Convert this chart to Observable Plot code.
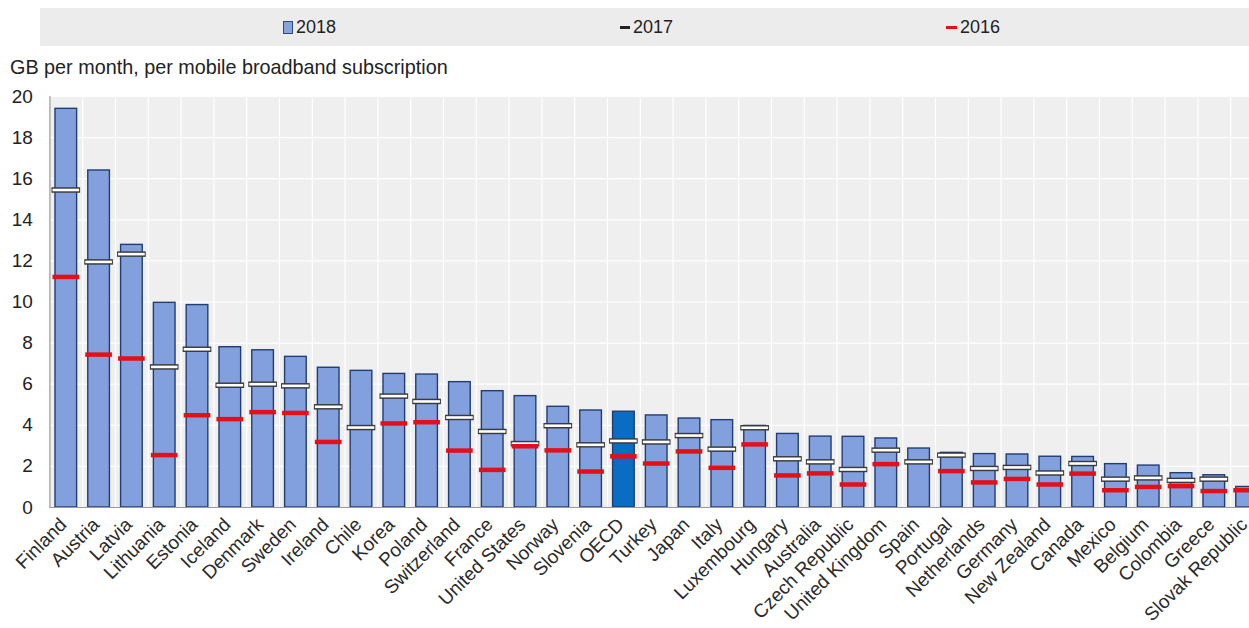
<!DOCTYPE html>
<html>
<head>
<meta charset="utf-8">
<script src="https://cdn.jsdelivr.net/npm/d3@7"></script>
<script src="https://cdn.jsdelivr.net/npm/@observablehq/plot@0.6"></script>
<style>
  html, body { margin: 0; padding: 0; background: #fff; overflow: hidden; width: 1249px; height: 628px; }
  body { position: relative; font-family: "Liberation Sans", Arial, sans-serif; }
  #chart { position: absolute; left: 0; top: 0; width: 1263px; }
  #chart svg { max-width: none !important; }
  #legend { position: absolute; left: 40px; top: 8px; width: 1209px; height: 38px; background: #ececec; z-index: 2; }
  .item { position: absolute; top: 0; height: 38px; display: flex; align-items: center; font-size: 18px; color: #222; }
  .sw { display: inline-block; margin-right: 3px; }
  #subtitle { position: absolute; left: 10px; top: 56px; font-size: 19.8px; color: #222; z-index: 2; white-space: nowrap; }
</style>
</head>
<body>
<div id="chart"></div>
<div id="legend">
  <div class="item" style="left:243px"><span class="sw" style="width:8px;height:11px;background:#86a3dc;border:1px solid #2c4a86"></span>2018</div>
  <div class="item" style="left:580px"><span class="sw" style="width:10px;height:3px;background:#222"></span>2017</div>
  <div class="item" style="left:906px"><span class="sw" style="width:11px;height:3px;background:#e3101a"></span>2016</div>
</div>
<div id="subtitle">GB per month, per mobile broadband subscription</div>
<script>
const countries = ["Finland","Austria","Latvia","Lithuania","Estonia","Iceland","Denmark","Sweden","Ireland","Chile","Korea","Poland","Switzerland","France","United States","Norway","Slovenia","OECD","Turkey","Japan","Italy","Luxembourg","Hungary","Australia","Czech Republic","United Kingdom","Spain","Portugal","Netherlands","Germany","New Zealand","Canada","Mexico","Belgium","Colombia","Greece","Slovak Republic"];
const v2018 = [19.4,16.4,12.78,9.96,9.85,7.8,7.65,7.33,6.8,6.65,6.5,6.47,6.1,5.66,5.42,4.9,4.72,4.66,4.48,4.33,4.25,3.97,3.58,3.45,3.44,3.36,2.87,2.66,2.6,2.58,2.47,2.46,2.11,2.04,1.67,1.57,1.0];
const v2017 = [15.45,11.95,12.33,6.84,7.7,5.95,6.0,5.92,4.9,3.89,5.42,5.16,4.38,3.7,3.11,3.98,3.05,3.24,3.19,3.5,2.84,3.88,2.37,2.22,1.85,2.79,2.22,2.55,1.9,1.95,1.68,2.14,1.38,1.44,1.32,1.38,null];
const v2016 = [11.22,7.44,7.25,2.55,4.49,4.3,4.64,4.6,3.19,null,4.09,4.15,2.77,1.83,2.98,2.78,1.75,2.49,2.14,2.73,1.93,3.07,1.56,1.66,1.12,2.11,null,1.77,1.22,1.39,1.12,1.65,0.84,1.0,1.04,0.8,0.84];
const yTicks = [0,2,4,6,8,10,12,14,16,18,20];

const data = countries.map((c, i) => ({country: c, y18: v2018[i], y17: v2017[i], y16: v2016[i]}));

const W = 1263, ML = 49.4, MR = 0;
const step = (W - ML - MR) / countries.length;

const chart = Plot.plot({
  width: W,
  height: 628,
  marginTop: 96,
  marginBottom: 121,
  marginLeft: ML,
  marginRight: MR,
  style: {fontFamily: "Liberation Sans, Arial, sans-serif", background: "transparent", color: "#222", maxWidth: "none"},
  x: {domain: countries, paddingInner: 0.34, paddingOuter: 0.17, round: false, label: null},
  y: {domain: [0, 20], ticks: yTicks, label: null},
  marks: [
    Plot.frame({fill: "#efefef", stroke: null}),
    Plot.gridY(yTicks, {stroke: "#ffffff", strokeOpacity: 1, strokeWidth: 1.2}),
    Plot.ruleX(countries, {x: d => d, stroke: "#ffffff", strokeWidth: 1.2, dx: step / 2}),
    Plot.barY(data, {x: "country", y: "y18", fill: d => d.country === "OECD" ? "#0b6cc4" : "#82a0de", stroke: "#223d73", strokeWidth: 1.4}),
    Plot.tickY(data.filter(d => d.y17 != null), {x: "country", y: "y17", stroke: "#3a3a3a", strokeWidth: 5.5, insetLeft: -3.5, insetRight: -3.5}),
    Plot.tickY(data.filter(d => d.y17 != null), {x: "country", y: "y17", stroke: "#ffffff", strokeWidth: 2.6, insetLeft: -2.5, insetRight: -2.5}),
    Plot.tickY(data.filter(d => d.y16 != null), {x: "country", y: "y16", stroke: "#e3101a", strokeWidth: 4.5, insetLeft: -2.5, insetRight: -2.5}),
    Plot.ruleY([0], {stroke: "#9a9a9a", strokeWidth: 1.2}),
    Plot.frame({anchor: "left", stroke: "#9a9a9a", strokeWidth: 1.2}),
    Plot.axisY({ticks: yTicks, tickSize: 0, tickPadding: 17, fontSize: 19, label: null}),
    Plot.axisX({tickSize: 0, tickPadding: 14, dx: -3, tickRotate: -45, fontSize: 19, fill: "#2a2a2a", label: null})
  ]
});
document.getElementById("chart").appendChild(chart);
</script>
</body>
</html>
